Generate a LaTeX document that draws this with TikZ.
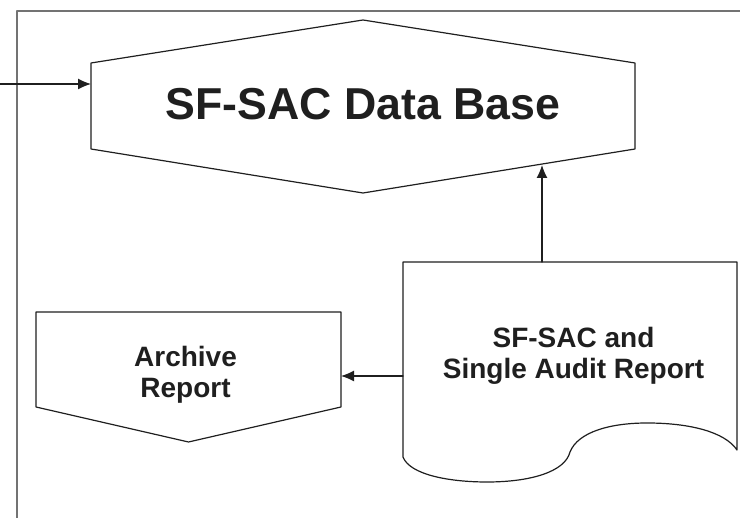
\documentclass[tikz,border=0pt]{standalone}
\usepackage{fontspec}
\setsansfont{Liberation Sans}
\usepackage{tikz}
\usetikzlibrary{arrows.meta}
\usetikzlibrary{positioning}
\definecolor{framegray}{rgb}{0.45,0.45,0.45}
\definecolor{linegray}{rgb}{0.12,0.12,0.12}
\begin{document}
\begin{tikzpicture}[line cap=round,line join=round,x=1pt,y=-1pt,
	shapebox/.style={draw=none,inner sep=0pt,outer sep=0pt},
	outline/.style={line width=1.2pt,color=linegray},
	bigtxt/.style={font=\sffamily\bfseries\fontsize{44.7}{54}\selectfont,text=linegray},
	smalltxt/.style={font=\sffamily\bfseries\fontsize{28}{31}\selectfont,align=center,text=linegray},
	arr/.style={-{Latex[length=13pt, width=11pt]},color=linegray,line width=1.2pt}]
	\useasboundingbox (0,0) rectangle (740,518);
	\draw[line width=1.8pt,framegray] (17,518) -- (17,11) -- (740,11);
	% boxes of the three symbols
	\node[shapebox,minimum width=544,minimum height=86] (db) at (363,106) {};
	\node[shapebox,minimum width=334,minimum height=195] (doc) at (570,359.5) {};
	\node[shapebox,minimum width=305,minimum height=95] (arch) at (188.5,359.5) {};
	\draw[outline] (db.north west) -- (db.north |- 0,20) -- (db.north east) -- (db.south east) -- (db.south |- 0,193) -- (db.south west) -- cycle;
	\draw[outline] (arch.north west) -- (arch.north east) -- (arch.south east) -- (arch.south |- 0,442) -- (arch.south west) -- cycle;
	\draw[outline] (doc.south west) -- (doc.north west) -- (doc.north east) -- (737,450) .. controls (725,432) and (690,423) .. (647,423) .. controls (610,423) and (578,432) .. (570,452) .. controls (565,472) and (530,482) .. (487,482) .. controls (450,482) and (410,475) .. (doc.south west);
	\node[bigtxt] (dbtxt) at (363,104) {SF-SAC Data Base};
	\node[smalltxt] (doctxt) at (573.5,355.5) {SF-SAC and\\Single Audit Report};
	\node[smalltxt] (archtxt) at (185.5,375) {Archive\\Report};
	% connectors
	\coordinate (src) at (0,84);
	\coordinate (dbin) at (542,165);
	\coordinate (archin) at (341,376);
	\draw[arr] (src) -- (db.west |- src);
	\draw[arr] (doc.north -| dbin) -- (dbin);
	\draw[arr] (doc.west |- archin) -- (archin);
\end{tikzpicture}
\end{document}
